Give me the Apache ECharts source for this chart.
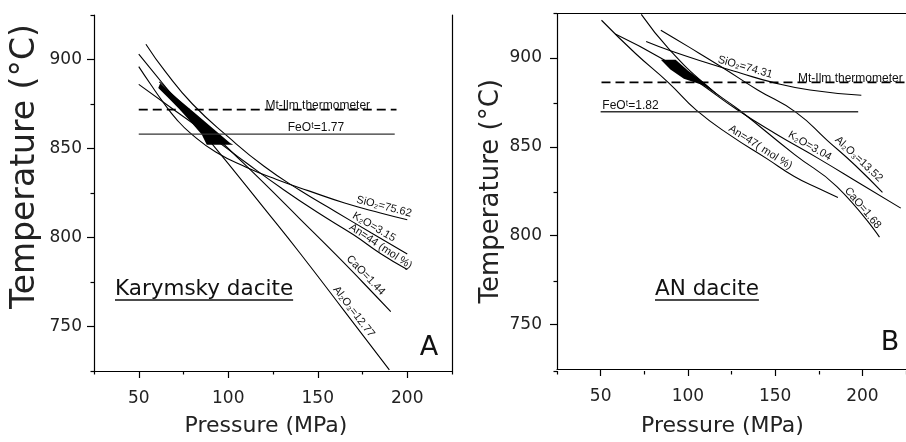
<!DOCTYPE html>
<html>
<head>
<meta charset="utf-8">
<script src="https://cdn.jsdelivr.net/npm/echarts@6/dist/echarts.min.js"></script>
<style>
  html, body { margin: 0; padding: 0; background: #fff; }
  #chart { width: 906px; height: 442px; }
</style>
</head>
<body>
<div id="chart"></div>
<script>
// Axis ticks (pressure in MPa, temperature in °C)
const pressureTicks = [50, 100, 150, 200];
const pressureMinorTicks = [25, 75, 125, 175, 225];
const temperatureTicks = [750, 800, 850, 900];
const temperatureMinorTicks = [725, 775, 825, 875, 925];

// Panel A: Karymsky dacite isopleths, [pressure, temperature]
const karymskySiO2 = [[50, 896], [57, 885.5], [64, 875.5], [71, 866.5], [79, 858.5], [93, 848], [110, 839.5], [127, 832.6], [145, 826.2], [165, 819.4], [185, 813.8], [200, 810]];
const karymskyK2O = [[54, 908.6], [65, 893], [80, 875], [100, 856.5], [120, 840], [140, 826.5], [160, 814.5], [180, 802.5], [200, 790.7]];
const karymskyAn = [[50, 886], [70, 871.5], [90, 857], [110, 842], [130, 827.5], [150, 814], [170, 801.5], [185, 791], [200, 782]];
const karymskyCaO = [[61.5, 887.4], [80, 869.5], [100, 850], [120, 830.5], [140, 810.5], [160, 790.5], [175, 775], [190.8, 758.3]];
const karymskyAl2O3 = [[50, 903], [80, 866], [100, 841.5], [120, 816.5], [140, 791.3], [165, 758.5], [190, 725.6]];
const karymskyMtIlm = [[50, 871.8], [194, 871.8]];
const karymskyFeO = [[50, 858.1], [193, 858.1]];
const karymskyWindow = [[61.9, 886.5], [70, 879.5], [80, 871], [90, 862.5], [101, 853.1], [102.8, 852.1], [88, 852.1], [85.2, 857.8], [79, 865], [73, 871.8], [66, 879], [60.9, 884]];

// Panel B: AN dacite isopleths, [pressure, temperature]
const anSiO2 = [[76.1, 909.2], [90, 904], [112.6, 896.7], [130, 891.5], [148.1, 886.4], [170, 882], [199.4, 879]];
const anK2O = [[58.4, 913.4], [85.5, 899.4], [105, 887], [128.5, 870.7], [150, 857.5], [174.7, 843.5], [200, 828.5], [222, 815.5]];
const anCaO = [[73.3, 924.5], [89.2, 905], [111.7, 883.6], [129.4, 870.7], [161.2, 845.6], [185.4, 827.6], [209.8, 799.2]];
const anAl2O3 = [[84.5, 915.6], [100, 906.5], [120, 894.5], [140, 882], [162, 869.4], [180, 853.5], [196, 839.5], [211.5, 824.3]];
const anAn = [[50.5, 921.2], [70, 902.5], [89, 886], [105, 870.5], [125, 856], [145, 843.5], [161, 833.3], [175, 826.5], [186, 821.5]];
const anMtIlm = [[50.5, 886.3], [225, 886.3]];
const anFeO = [[50, 869.7], [197.6, 869.7]];
const anWindow = [[84.5, 899], [93, 899], [100, 893], [108.9, 886.4], [119.2, 877.7], [108.9, 884.6], [97.7, 888.3], [90, 893.5]];

const AXIS_FONT = "'DejaVu Sans', sans-serif";
const LABEL_FONT = "'Liberation Sans', Arial, sans-serif";

// Curve annotations: text sits on the curve at pressure `at`, lifted `gap` px
const karymskyNotes = [
  { curve: karymskySiO2, at: 186, gap: 7, text: 'SiO₂=75.62' },
  { curve: karymskyK2O, at: 179.6, gap: 6.5, text: 'K₂O=3.15' },
  { curve: karymskyAn, at: 183.3, gap: 6, text: 'An=44 (mol %)' },
  { curve: karymskyCaO, at: 174, gap: 7, text: 'CaO=1.44' },
  { curve: karymskyAl2O3, at: 167, gap: 7, text: 'Al₂O₃=12.77' },
  { curve: karymskyMtIlm, at: 150, gap: 4.5, text: 'Mt-Ilm thermometer', size: 12 },
  { curve: karymskyFeO, at: 149, gap: 6, text: 'FeOᵗ=1.77', size: 12 }
];
const anNotes = [
  { curve: anSiO2, at: 131.7, gap: 7, text: 'SiO₂=74.31' },
  { curve: anK2O, at: 168, gap: 6.5, text: 'K₂O=3.04' },
  { curve: anAl2O3, at: 195.2, gap: 7, text: 'Al₂O₃=13.52' },
  { curve: anCaO, at: 197.6, gap: 6, text: 'CaO=1.68' },
  { curve: anAn, at: 139.7, gap: 6, text: 'An=47( mol %)' },
  { curve: anMtIlm, at: 163.1, gap: 4, text: 'Mt-Ilm thermometer', size: 12, align: 'left' },
  { curve: anFeO, at: 51, gap: 6.5, text: 'FeOᵗ=1.82', size: 12, align: 'left' }
];

function valueAt(curve, x) {
  if (x <= curve[0][0]) return curve[0][1];
  for (let i = 1; i < curve.length; i++) {
    if (x <= curve[i][0]) {
      const [x0, y0] = curve[i - 1], [x1, y1] = curve[i];
      return y0 + (y1 - y0) * (x - x0) / (x1 - x0);
    }
  }
  return curve[curve.length - 1][1];
}

function isopleth(data, xi, yi) {
  return {
    type: 'line', xAxisIndex: xi, yAxisIndex: yi, data: data,
    smooth: 0.5, showSymbol: false, silent: true,
    lineStyle: { color: '#000', width: 1.1 }
  };
}
function levelLine(data, xi, yi, dashed) {
  return {
    type: 'line', xAxisIndex: xi, yAxisIndex: yi, data: data,
    showSymbol: false, silent: true,
    lineStyle: dashed ? { color: '#000', width: 1.7, type: [9, 5] } : { color: '#333', width: 1.4 }
  };
}
function windowArea(poly, xi, yi) {
  return {
    type: 'custom', xAxisIndex: xi, yAxisIndex: yi, silent: true, data: [0],
    renderItem: function (params, api) {
      return { type: 'polygon', shape: { points: poly.map(p => api.coord(p)) }, style: { fill: '#000' } };
    }
  };
}
function notes(list, xi, yi) {
  return {
    type: 'custom', xAxisIndex: xi, yAxisIndex: yi, silent: true, clip: false, z: 5,
    data: list.map((n, i) => i),
    renderItem: function (params, api) {
      const n = list[params.dataIndex];
      const c = api.coord([n.at, valueAt(n.curve, n.at)]);
      const a = api.coord([n.at - 4, valueAt(n.curve, n.at - 4)]);
      const b = api.coord([n.at + 4, valueAt(n.curve, n.at + 4)]);
      const ang = Math.atan2(b[1] - a[1], b[0] - a[0]);
      return {
        type: 'text',
        x: c[0] + Math.sin(ang) * n.gap,
        y: c[1] - Math.cos(ang) * n.gap,
        rotation: -ang,
        style: {
          text: n.text, fill: '#111',
          font: (n.size || 11) + 'px ' + LABEL_FONT,
          align: n.align || 'center', verticalAlign: 'middle'
        }
      };
    }
  };
}

function pressureAxis(gridIndex, nameOpts) {
  return {
    type: 'value', gridIndex: gridIndex, min: 25, max: 225, position: 'bottom',
    axisLine: { show: true, onZero: false, lineStyle: { color: '#000', width: 1.2 } },
    axisTick: { show: true, customValues: pressureTicks, length: 7, lineStyle: { color: '#000', width: 1.2 } },
    axisLabel: { customValues: pressureTicks, margin: 19, color: '#222', fontSize: 17, fontFamily: AXIS_FONT },
    splitLine: { show: false },
    name: 'Pressure (MPa)', nameLocation: 'middle', nameGap: nameOpts.gap,
    nameTextStyle: { fontSize: 22, color: '#222', fontFamily: AXIS_FONT, padding: nameOpts.padding }
  };
}
function minorPressureAxis(gridIndex) {
  return {
    type: 'value', gridIndex: gridIndex, min: 25, max: 225, position: 'bottom',
    axisLine: { show: false },
    axisTick: { show: true, customValues: pressureMinorTicks, length: 3.5, lineStyle: { color: '#000', width: 1.2 } },
    axisLabel: { show: false }, splitLine: { show: false }
  };
}
function temperatureAxis(gridIndex, nameOpts) {
  return {
    type: 'value', gridIndex: gridIndex, min: 725, max: 925, position: 'left',
    axisLine: { show: true, onZero: false, lineStyle: { color: '#000', width: 1.2 } },
    axisTick: { show: true, customValues: temperatureTicks, length: 7, lineStyle: { color: '#000', width: 1.2 } },
    axisLabel: { customValues: temperatureTicks, margin: nameOpts.labelMargin, color: '#222', fontSize: 17, fontFamily: AXIS_FONT },
    splitLine: { show: false },
    name: 'Temperature (°C)', nameLocation: 'middle', nameGap: nameOpts.gap,
    nameTextStyle: { fontSize: nameOpts.size, color: '#222', fontFamily: AXIS_FONT, padding: nameOpts.padding }
  };
}
function minorTemperatureAxis(gridIndex) {
  return {
    type: 'value', gridIndex: gridIndex, min: 725, max: 925, position: 'left',
    axisLine: { show: false },
    axisTick: { show: true, customValues: temperatureMinorTicks, length: 3.5, lineStyle: { color: '#000', width: 1.2 } },
    axisLabel: { show: false }, splitLine: { show: false }
  };
}
function frameAxis(kind, gridIndex, position) {
  const ax = {
    type: 'value', gridIndex: gridIndex, position: position,
    axisLine: { show: true, onZero: false, lineStyle: { color: '#000', width: 1.2 } },
    axisTick: { show: false }, axisLabel: { show: false }, splitLine: { show: false }
  };
  if (kind === 'x') { ax.min = 25; ax.max = 225; } else { ax.min = 725; ax.max = 925; }
  return ax;
}

// Titles inside the plots, underlined
function measure(text, font) {
  const ctx = document.createElement('canvas').getContext('2d');
  ctx.font = font;
  return ctx.measureText(text).width;
}
function underlinedTitle(text, left, middle, underlineY) {
  const font = "21.5px " + AXIS_FONT;
  const w = measure(text, font);
  return [
    { type: 'text', x: left, y: middle, style: { text: text, font: font, fill: '#111', align: 'left', verticalAlign: 'middle' } },
    { type: 'line', shape: { x1: left, y1: underlineY, x2: left + w, y2: underlineY }, style: { stroke: '#111', lineWidth: 1.5 } }
  ];
}

const gridA = { left: 94, top: 15, width: 358, height: 356 };
const gridB = { left: 557, top: 13.5, width: 357, height: 357.5 };

const option = {
  animation: false,
  backgroundColor: '#fff',
  grid: [gridA, gridA, gridB, gridB],
  xAxis: [
    pressureAxis(0, { gap: 44, padding: [0, 14, 0, 0] }),
    minorPressureAxis(1),
    pressureAxis(2, { gap: 46, padding: [0, 18, 0, 0] }),
    minorPressureAxis(3),
    frameAxis('x', 2, 'top')
  ],
  yAxis: [
    temperatureAxis(0, { gap: 52, size: 33, padding: [0, 0, 0, 53], labelMargin: 12 }),
    minorTemperatureAxis(1),
    frameAxis('y', 0, 'right'),
    temperatureAxis(2, { gap: 53, size: 26, padding: [0, 0, 0, 0], labelMargin: 15 }),
    minorTemperatureAxis(3)
  ],
  series: [
    windowArea(karymskyWindow, 0, 0),
    isopleth(karymskySiO2, 0, 0),
    isopleth(karymskyK2O, 0, 0),
    isopleth(karymskyAn, 0, 0),
    isopleth(karymskyCaO, 0, 0),
    isopleth(karymskyAl2O3, 0, 0),
    levelLine(karymskyMtIlm, 0, 0, true),
    levelLine(karymskyFeO, 0, 0, false),
    notes(karymskyNotes, 0, 0),

    windowArea(anWindow, 2, 3),
    isopleth(anSiO2, 2, 3),
    isopleth(anK2O, 2, 3),
    isopleth(anCaO, 2, 3),
    isopleth(anAl2O3, 2, 3),
    isopleth(anAn, 2, 3),
    levelLine(anMtIlm, 2, 3, true),
    levelLine(anFeO, 2, 3, false),
    notes(anNotes, 2, 3)
  ],
  graphic: [
    ...underlinedTitle('Karymsky dacite', 115, 289, 300),
    ...underlinedTitle('AN dacite', 655, 289, 300),
    { type: 'text', x: 429, y: 348, style: { text: 'A', font: "27px " + AXIS_FONT, fill: '#111', align: 'center', verticalAlign: 'middle' } },
    { type: 'text', x: 890, y: 343, style: { text: 'B', font: "27px " + AXIS_FONT, fill: '#111', align: 'center', verticalAlign: 'middle' } }
  ]
};

const chart = echarts.init(document.getElementById('chart'));
chart.setOption(option);
</script>
</body>
</html>
